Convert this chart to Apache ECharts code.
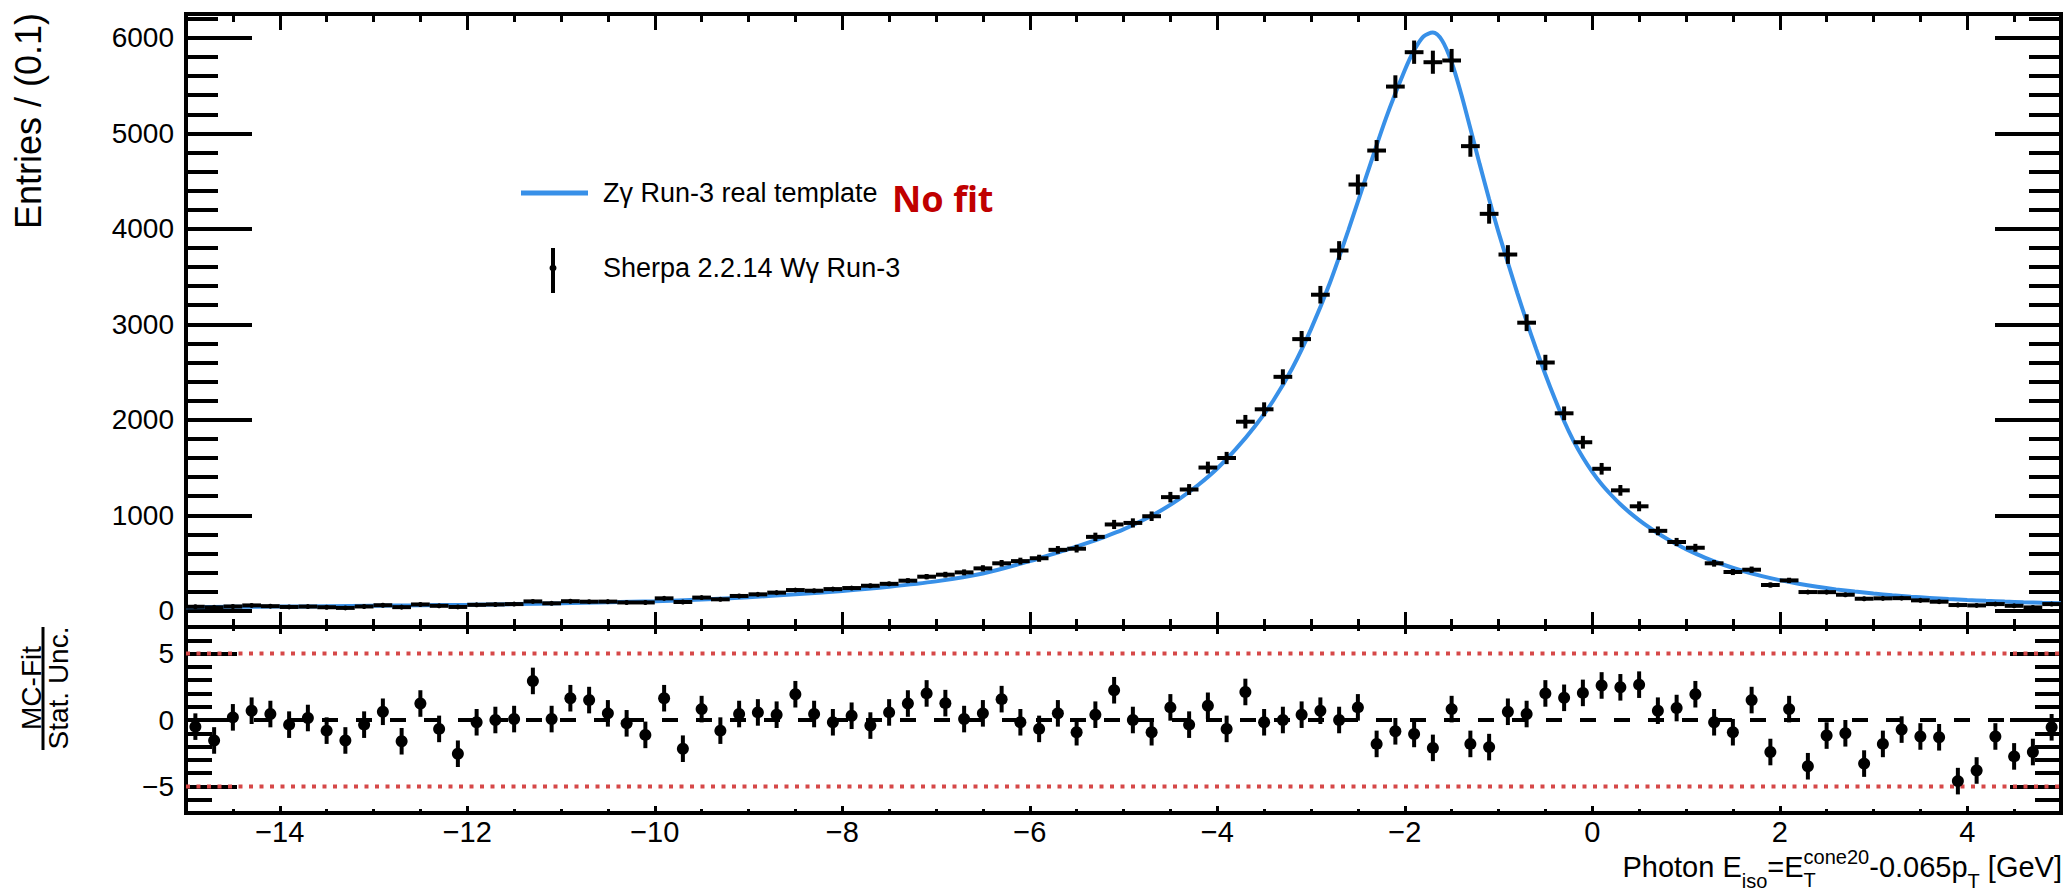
<!DOCTYPE html>
<html>
<head>
<meta charset="utf-8">
<title>Photon isolation: Zγ Run-3 real template vs Sherpa Wγ</title>
<script src="https://cdn.jsdelivr.net/npm/echarts@6.0.0/dist/echarts.min.js"></script>
<style>
html, body { margin: 0; padding: 0; background: #ffffff; }
#chart { width: 2066px; height: 895px; }
</style>
</head>
<body>
<div id="chart"></div>
<script>
// ------------------------------------------------------------------
// Data
// ------------------------------------------------------------------
const binStart = -15;     // first bin low edge [GeV]
const binWidth = 0.2;     // bin width [GeV]

// Sherpa 2.2.14 Wγ Run-3 MC entries per bin (100 bins, -15 .. 5)
const mcCounts = [
  42, 36, 45, 56, 48, 40, 44, 37, 30, 45,
  58, 38, 66, 52, 40, 62, 66, 70, 98, 78,
  100, 95, 96, 87, 87, 130, 92, 138, 120, 155,
  172, 190, 217, 210, 227, 238, 262, 282, 315, 357,
  378, 402, 444, 497, 520, 550, 638, 650, 774, 904,
  920, 990, 1190, 1270, 1500, 1600, 1980, 2110, 2450, 2845,
  3310, 3773, 4464, 4820, 5490, 5850, 5745, 5763, 4866, 4157,
  3731, 3017, 2600, 2068, 1765, 1487, 1261, 1094, 837, 720,
  660, 497, 406, 430, 270, 318, 196, 195, 168, 126,
  130, 132, 109, 95, 60, 56, 70, 52, 35, 70
];
// vertical error half-length per bin
const mcErrors = [
  7, 6, 7, 8, 7, 7, 7, 6, 6, 7,
  8, 6, 8, 7, 6, 8, 8, 8, 10, 9,
  10, 10, 10, 9, 9, 12, 10, 12, 11, 13,
  14, 15, 16, 16, 17, 18, 20, 22, 25, 28,
  30, 31, 33, 35, 36, 37, 40, 40, 44, 48,
  48, 50, 55, 57, 62, 64, 71, 73, 79, 85,
  92, 98, 106, 110, 118, 122, 121, 121, 111, 103,
  98, 88, 81, 72, 67, 61, 56, 52, 46, 43,
  41, 35, 32, 33, 26, 28, 20, 20, 18, 15,
  15, 15, 13, 12, 9, 9, 10, 8, 7, 10
];
// (MC - Fit) / Stat. Unc. per bin
const pullValues = [
  -0.5, -1.54, 0.2, 0.7, 0.45, -0.35, 0.15, -0.8, -1.54, -0.35,
  0.62, -1.6, 1.24, -0.67, -2.54, -0.17, 0, 0.07, 2.94, 0.07,
  1.64, 1.5, 0.5, -0.25, -1.12, 1.64, -2.16, 0.82, -0.8, 0.45,
  0.57, 0.4, 1.94, 0.45, -0.17, 0.32, -0.42, 0.57, 1.24, 2.0,
  1.27, 0.07, 0.5, 1.57, -0.17, -0.67, 0.5, -0.92, 0.4, 2.24,
  0, -0.92, 0.95, -0.35, 1.07, -0.67, 2.11, -0.17, 0, 0.4,
  0.7, 0, 0.95, -1.8, -0.85, -1.05, -2.1, 0.82, -1.8, -2.04,
  0.62, 0.45, 2.0, 1.67, 2.04, 2.6, 2.46, 2.66, 0.7, 0.9,
  1.94, -0.17, -0.92, 1.5, -2.41, 0.82, -3.48, -1.17, -1.0, -3.28,
  -1.8, -0.72, -1.24, -1.3, -4.6, -3.8, -1.24, -2.74, -2.41, -0.55
];
const pullError = 1;

// Zγ Run-3 real template curve (sampled)
const curveX = [
  -15.0, -14.5, -14.0, -13.5, -13.0, -12.5, -12.0, -11.5, -11.0, -10.5,
  -10.0, -9.5, -9.0, -8.5, -8.0, -7.5, -7.0, -6.5, -6.0,
  -5.8, -5.6, -5.4, -5.2, -5.0, -4.8, -4.6, -4.4, -4.2, -4.0,
  -3.8, -3.6, -3.4, -3.2, -3.0, -2.8, -2.6, -2.4, -2.2, -2.0,
  -1.9, -1.8, -1.7, -1.6, -1.5, -1.4, -1.3, -1.2, -1.1,
  -1.0, -0.9, -0.8, -0.7, -0.6, -0.5, -0.4, -0.3, -0.2, -0.1,
  0.0, 0.1, 0.2, 0.3, 0.4, 0.5, 0.6, 0.7, 0.8, 0.9,
  1.0, 1.2, 1.4, 1.6, 1.8, 2.0, 2.2, 2.4, 2.6, 2.8,
  3.0, 3.2, 3.4, 3.6, 3.8, 4.0, 4.2, 4.4, 4.6, 4.8, 5.0
];
const curveY = [
  38, 41, 44, 48, 52, 57, 63, 70, 78, 88,
  100, 118, 142, 172, 208, 252, 308, 390, 520,
  580, 640, 705, 775, 852, 945, 1050, 1175, 1320, 1490,
  1695, 1930, 2205, 2540, 2950, 3430, 3990, 4580, 5160, 5660,
  5870, 6015, 6055, 5970, 5745, 5420, 5050, 4675, 4310,
  3965, 3645, 3330, 3030, 2745, 2475, 2222, 1985, 1780, 1605,
  1455, 1325, 1215, 1115, 1028, 950, 878, 812, 752, 697,
  646, 557, 482, 419, 366, 321, 283, 251, 224, 201,
  181, 163, 148, 135, 123, 113, 104, 96, 89, 83, 78
];

// axis ranges and tick values
const xRange = [-15, 5];
const yMainRange = [-170, 6250];
const yPullRange = [-7, 7];
const xMajorTicks = [-14, -12, -10, -8, -6, -4, -2, 0, 2, 4];
const xMinorTicks = [-14.5, -13.5, -13, -12.5, -11.5, -11, -10.5, -9.5, -9, -8.5,
  -7.5, -7, -6.5, -5.5, -5, -4.5, -3.5, -3, -2.5, -1.5, -1, -0.5,
  0.5, 1, 1.5, 2.5, 3, 3.5, 4.5];
const yMainMajorTicks = [0, 1000, 2000, 3000, 4000, 5000, 6000];
const yMainMinorTicks = [200, 400, 600, 800, 1200, 1400, 1600, 1800, 2200, 2400, 2600, 2800,
  3200, 3400, 3600, 3800, 4200, 4400, 4600, 4800, 5200, 5400, 5600, 5800, 6200];
const yPullMajorTicks = [-5, 0, 5];
const yPullMinorTicks = [-6, -4, -3, -2, -1, 1, 2, 3, 4, 6];
const pullBandLevels = [5, -5];
const pullZeroLevel = 0;

// texts
const legendCurveLabel = 'Z\u03b3 Run-3 real template';
const legendMCLabel = 'Sherpa 2.2.14 W\u03b3 Run-3';
const noFitLabel = 'No fit';
const yTitle = 'Entries / (0.1)';
const ratioTitleTop = 'MC-Fit';
const ratioTitleBottom = 'Stat. Unc.';

// ------------------------------------------------------------------
// Layout / style
// ------------------------------------------------------------------
const FONT = '"Liberation Sans", Arial, Helvetica, sans-serif';
const BLUE = '#3890e8';
const RED = '#d64848';
const P = { left: 186, right: 2061, top: 14, mid: 627, bottom: 813 };

function minusFmt(v) { return v < 0 ? '\u2212' + Math.abs(v) : String(v); }

function xAxisDef(gridIndex, position, ticks, len, withLabels) {
  return {
    type: 'value', gridIndex: gridIndex, position: position,
    min: xRange[0], max: xRange[1],
    axisLine: { show: false, onZero: false }, splitLine: { show: false }, minorTick: { show: false },
    axisTick: { show: true, inside: true, length: len, customValues: ticks,
      lineStyle: { color: '#000', width: 3 } },
    axisLabel: withLabels ? {
      show: true, customValues: ticks, formatter: minusFmt,
      fontFamily: FONT, fontSize: 29, color: '#000', margin: 4
    } : { show: false }
  };
}
function yAxisDef(gridIndex, position, range, ticks, len, withLabels) {
  return {
    type: 'value', gridIndex: gridIndex, position: position,
    min: range[0], max: range[1],
    axisLine: { show: false, onZero: false }, splitLine: { show: false }, minorTick: { show: false },
    axisTick: { show: true, inside: true, length: len, customValues: ticks,
      lineStyle: { color: '#000', width: 4 } },
    axisLabel: withLabels ? {
      show: true, customValues: ticks, formatter: minusFmt,
      fontFamily: FONT, fontSize: 28, color: '#000', margin: 12
    } : { show: false }
  };
}

const mcData = mcCounts.map((v, i) => [binStart + binWidth * (i + 0.5), v, mcErrors[i]]);
const pullData = pullValues.map((v, i) => [binStart + binWidth * (i + 0.5), v, pullError]);
const curveData = curveX.map((x, i) => [x, curveY[i]]);

// x-axis title pieces laid out right-aligned
const mctx = document.createElement('canvas').getContext('2d');
function textW(t, size) { mctx.font = size + 'px "Liberation Sans"'; return mctx.measureText(t).width; }
const TM = 29, TS = 20, TBASE = 877, TRIGHT = 2062;
const titleSegs = [
  [{ t: 'Photon E', s: TM, dy: 0 }],
  [{ t: 'iso', s: TS, dy: 11 }],
  [{ t: '=E', s: TM, dy: 0 }],
  [{ t: 'cone20', s: TS, dy: -13 }, { t: 'T', s: TS, dy: 10 }],
  [{ t: '-0.065p', s: TM, dy: 0 }],
  [{ t: 'T', s: TS, dy: 11 }],
  [{ t: ' [GeV]', s: TM, dy: 0 }]
];
const segW = titleSegs.map(g => Math.max.apply(null, g.map(p => textW(p.t, p.s))));
let cursor = TRIGHT - segW.reduce((a, b) => a + b, 0);
const titleGraphics = [];
titleSegs.forEach((g, gi) => {
  g.forEach(p => {
    titleGraphics.push({
      type: 'text', x: cursor, y: TBASE + p.dy - 0.3465 * p.s, silent: true,
      style: { text: p.t, fontFamily: FONT, fontSize: p.s, fill: '#000',
        align: 'left', verticalAlign: 'middle', textAlign: 'left', textVerticalAlign: 'middle' }
    });
  });
  cursor += segW[gi];
});

function txt(x, y, text, opts) {
  return Object.assign({
    type: 'text', x: x, y: y, silent: true,
    style: Object.assign({ text: text, fontFamily: FONT, fontSize: 27, fill: '#000',
      align: 'left', verticalAlign: 'middle', textAlign: 'left', textVerticalAlign: 'middle' }, opts && opts.style)
  }, opts && opts.el);
}

const option = {
  animation: false,
  backgroundColor: '#ffffff',
  grid: [
    { left: P.left, top: P.top, width: P.right - P.left, height: P.mid - P.top,
      show: true, borderColor: '#000', borderWidth: 4, backgroundColor: 'transparent',
      containLabel: false, outerBoundsMode: 'none' },
    { left: P.left, top: P.mid, width: P.right - P.left, height: P.bottom - P.mid,
      show: true, borderColor: '#000', borderWidth: 4, backgroundColor: 'transparent',
      containLabel: false, outerBoundsMode: 'none' }
  ],
  xAxis: [
    xAxisDef(0, 'bottom', xMajorTicks, 15, false),
    xAxisDef(0, 'bottom', xMinorTicks, 8, false),
    xAxisDef(0, 'top', xMajorTicks, 16, false),
    xAxisDef(0, 'top', xMinorTicks, 8, false),
    xAxisDef(1, 'bottom', xMajorTicks, 7, true),
    xAxisDef(1, 'bottom', xMinorTicks, 4, false),
    xAxisDef(1, 'top', xMajorTicks, 7, false),
    xAxisDef(1, 'top', xMinorTicks, 4, false)
  ],
  yAxis: [
    yAxisDef(0, 'left', yMainRange, yMainMajorTicks, 66, true),
    yAxisDef(0, 'left', yMainRange, yMainMinorTicks, 32, false),
    yAxisDef(0, 'right', yMainRange, yMainMajorTicks, 66, false),
    yAxisDef(0, 'right', yMainRange, yMainMinorTicks, 32, false),
    yAxisDef(1, 'left', yPullRange, yPullMajorTicks, 51, true),
    yAxisDef(1, 'left', yPullRange, yPullMinorTicks, 26, false),
    yAxisDef(1, 'right', yPullRange, yPullMajorTicks, 51, false),
    yAxisDef(1, 'right', yPullRange, yPullMinorTicks, 26, false)
  ],
  series: [
    {
      name: legendCurveLabel, type: 'line', xAxisIndex: 0, yAxisIndex: 0,
      data: curveData, showSymbol: false, smooth: 0.3,
      lineStyle: { color: BLUE, width: 4 }, itemStyle: { color: BLUE },
      z: 3, clip: true, silent: true
    },
    {
      name: legendMCLabel, type: 'custom', xAxisIndex: 0, yAxisIndex: 0,
      data: mcData, clip: true, z: 4, silent: true,
      renderItem: function (params, api) {
        const x = api.value(0), y = api.value(1), e = api.value(2);
        const pl = api.coord([x - binWidth / 2, y]);
        const pr = api.coord([x + binWidth / 2, y]);
        const pt = api.coord([x, y + e]);
        const pb = api.coord([x, y - e]);
        const pc = api.coord([x, y]);
        return { type: 'group', children: [
          { type: 'line', shape: { x1: pl[0], y1: pl[1], x2: pr[0], y2: pr[1] }, style: { stroke: '#000', lineWidth: 4 } },
          { type: 'line', shape: { x1: pt[0], y1: pt[1], x2: pb[0], y2: pb[1] }, style: { stroke: '#000', lineWidth: 4 } },
          { type: 'circle', shape: { cx: pc[0], cy: pc[1], r: 2.5 }, style: { fill: '#000' } }
        ] };
      }
    },
    {
      name: 'zero', type: 'line', xAxisIndex: 4, yAxisIndex: 4, silent: true,
      data: [[xRange[0], pullZeroLevel], [xRange[1], pullZeroLevel]], showSymbol: false,
      lineStyle: { color: '#000', width: 4, type: [16, 18] }, z: 2
    },
    {
      name: 'band+', type: 'line', xAxisIndex: 4, yAxisIndex: 4, silent: true,
      data: [[xRange[0], pullBandLevels[0]], [xRange[1], pullBandLevels[0]]], showSymbol: false,
      lineStyle: { color: RED, width: 4, type: [4, 6.5] }, z: 2
    },
    {
      name: 'band-', type: 'line', xAxisIndex: 4, yAxisIndex: 4, silent: true,
      data: [[xRange[0], pullBandLevels[1]], [xRange[1], pullBandLevels[1]]], showSymbol: false,
      lineStyle: { color: RED, width: 4, type: [4, 6.5] }, z: 2
    },
    {
      name: 'pull', type: 'custom', xAxisIndex: 4, yAxisIndex: 4,
      data: pullData, clip: true, z: 4, silent: true,
      renderItem: function (params, api) {
        const x = api.value(0), y = api.value(1), e = api.value(2);
        const pt = api.coord([x, y + e]);
        const pb = api.coord([x, y - e]);
        const pc = api.coord([x, y]);
        return { type: 'group', children: [
          { type: 'line', shape: { x1: pt[0], y1: pt[1], x2: pb[0], y2: pb[1] }, style: { stroke: '#000', lineWidth: 4 } },
          { type: 'circle', shape: { cx: pc[0], cy: pc[1], r: 6 }, style: { fill: '#000' } }
        ] };
      }
    }
  ],
  graphic: [
    // legend
    { type: 'line', silent: true, shape: { x1: 521, y1: 193, x2: 588, y2: 193 }, style: { stroke: BLUE, lineWidth: 5 } },
    txt(603, 193, legendCurveLabel),
    { type: 'line', silent: true, shape: { x1: 553, y1: 248, x2: 553, y2: 293 }, style: { stroke: '#000', lineWidth: 4 } },
    { type: 'circle', silent: true, shape: { cx: 553, cy: 268, r: 3.5 }, style: { fill: '#000' } },
    txt(603, 268, legendMCLabel),
    txt(892, 198, noFitLabel, { style: { fontFamily: '"Noto Sans", "Open Sans", sans-serif', fontWeight: 'bold', fontSize: 36, fill: '#c00000' } }),
    // y-axis title (main)
    txt(28, 13, yTitle, { el: { rotation: Math.PI / 2 }, style: { fontSize: 36, align: 'right', textAlign: 'right' } }),
    // ratio y title as a fraction
    txt(31, 688, ratioTitleTop, { el: { rotation: Math.PI / 2 }, style: { fontSize: 28, align: 'center', textAlign: 'center' } }),
    txt(58, 688, ratioTitleBottom, { el: { rotation: Math.PI / 2 }, style: { fontSize: 28, align: 'center', textAlign: 'center' } }),
    { type: 'line', silent: true, shape: { x1: 43, y1: 627, x2: 43, y2: 750 }, style: { stroke: '#000', lineWidth: 3 } }
  ].concat(titleGraphics)
};

const chart = echarts.init(document.getElementById('chart'), null, { renderer: 'svg', width: 2066, height: 895 });
chart.setOption(option);
</script>
</body>
</html>
